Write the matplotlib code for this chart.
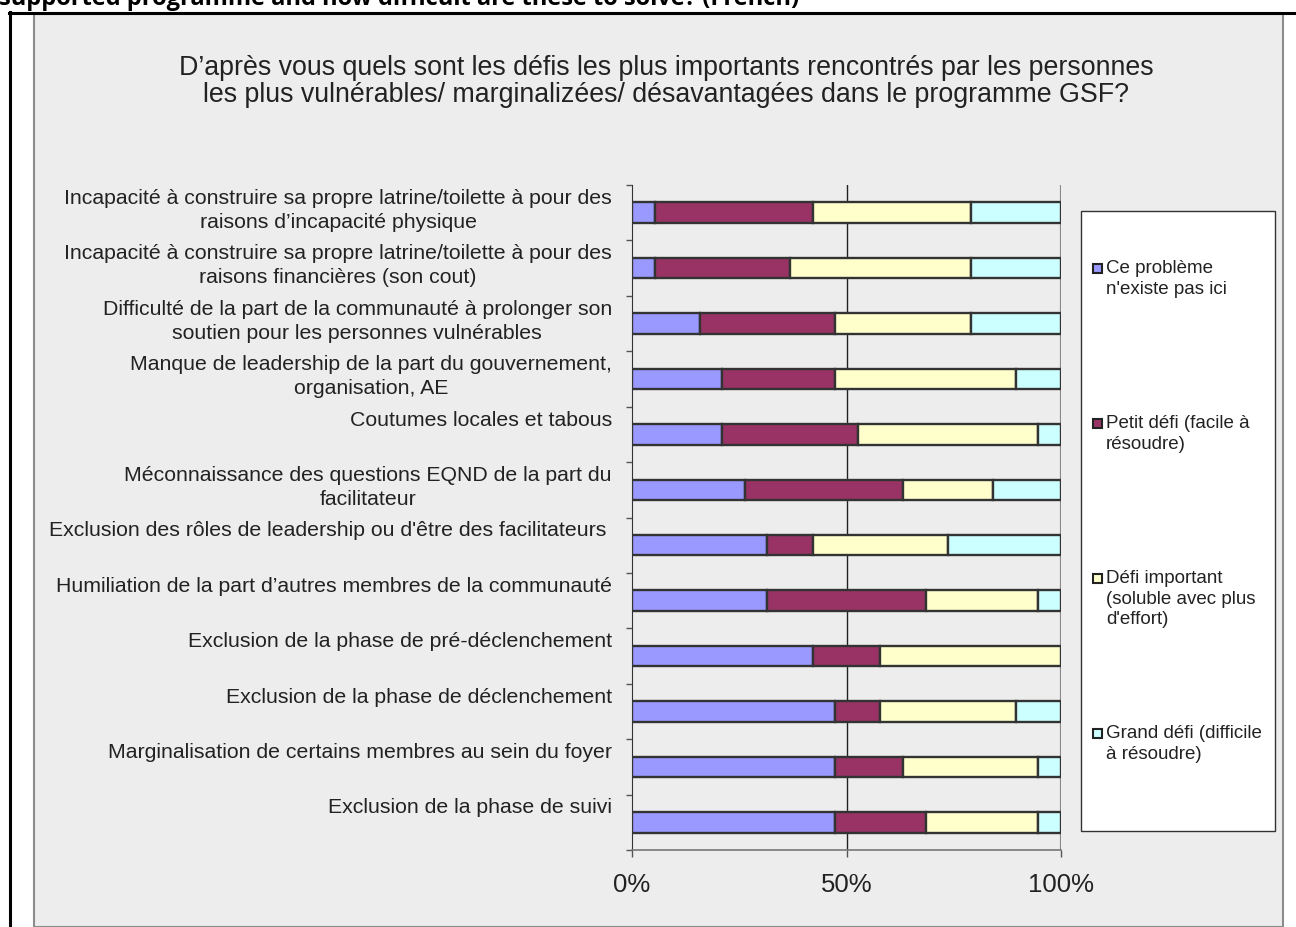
import matplotlib.pyplot as plt
from matplotlib.patches import Rectangle
from matplotlib.lines import Line2D
from matplotlib.transforms import blended_transform_factory

plt.rcParams['font.family'] = ['Liberation Sans', 'DejaVu Sans']

# ─────────── data (answers out of 19 respondents) ───────────
CATEGORIES = [
    "Incapacité à construire sa propre latrine/toilette à pour des\nraisons d’incapacité physique",
    "Incapacité à construire sa propre latrine/toilette à pour des\nraisons financières (son cout)",
    "Difficulté de la part de la communauté à prolonger son\nsoutien pour les personnes vulnérables",
    "Manque de leadership de la part du gouvernement,\norganisation, AE",
    "Coutumes locales et tabous",
    "Méconnaissance des questions EQND de la part du\nfacilitateur",
    "Exclusion des rôles de leadership ou d'être des facilitateurs ",
    "Humiliation de la part d’autres membres de la communauté",
    "Exclusion de la phase de pré-déclenchement",
    "Exclusion de la phase de déclenchement",
    "Marginalisation de certains membres au sein du foyer",
    "Exclusion de la phase de suivi",
]

no_problem  = [1, 1, 3, 4, 4, 5, 6, 6, 8, 9, 9, 9]
small       = [7, 6, 6, 5, 6, 7, 2, 7, 3, 2, 3, 4]
important   = [7, 8, 6, 8, 8, 4, 6, 5, 8, 6, 6, 5]
big         = [4, 4, 4, 2, 1, 3, 5, 1, 0, 2, 1, 1]

SERIES_LABELS = [
    "Ce problème\nn'existe pas ici",
    "Petit défi (facile à\nrésoudre)",
    "Défi important\n(soluble avec plus\nd'effort)",
    "Grand défi (difficile\nà résoudre)",
]
COLORS = ['#9999ff', '#993366', '#ffffcc', '#ccffff']

TITLE = ("D’après vous quels sont les défis les plus importants rencontrés par les personnes\n"
         "les plus vulnérables/ marginalizées/ désavantagées dans le programme GSF?")
HEADER = "supported programme and how difficult are these to solve? (French)"

X_TICKS = [0, 0.5, 1.0]
X_TICKLABELS = ['0%', '50%', '100%']

# ─────────── figure geometry (pixels) ───────────
W, H = 1296, 927
TXT = '#222222'


def fx(px):
    return px / W


def fy(py):
    return 1 - py / H


fig = plt.figure(figsize=(W / 100, H / 100), dpi=100)
fig.patch.set_facecolor('white')

# document frame and grey chart area
fig.add_artist(Rectangle((fx(34), 0), fx(1283) - fx(34), fy(14),
                         transform=fig.transFigure, facecolor='#ededed',
                         edgecolor='#8c8c8c', linewidth=1.5, zorder=0))
fig.add_artist(Line2D([fx(10), fx(10)], [0, fy(12)], transform=fig.transFigure,
                      color='black', linewidth=2.2))
fig.add_artist(Line2D([fx(9), 1], [fy(13), fy(13)], transform=fig.transFigure,
                      color='black', linewidth=2.2))
fig.text(fx(-1), fy(5), HEADER, fontsize=17, fontweight='bold',
         family=['Open Sans', 'DejaVu Sans'], ha='left', va='baseline', color='black')

fig.text(fx(666), fy(55), TITLE, ha='center', va='top', fontsize=19.3,
         linespacing=1.06, color=TXT)

# ─────────── stacked 100% bars ───────────
ax = fig.add_axes([fx(632), fy(850), fx(1061) - fx(632), (850 - 185) / H])
ax.set_facecolor('none')

n = len(CATEGORIES)
ypos = list(range(n))
series = [no_problem, small, important, big]
left = [0.0] * n
for vals, col in zip(series, COLORS):
    for i in range(n):
        total = no_problem[i] + small[i] + important[i] + big[i]
        frac = vals[i] / total
        if frac > 0:
            ax.barh(ypos[i], frac, left=left[i], height=0.37, color=col,
                    edgecolor='#333333', linewidth=1.7, zorder=3)
        left[i] += frac

ax.set_xlim(0, 1)
ax.set_ylim(n - 0.5, -0.5)

ax.axvline(0.5, color='#222222', linewidth=1.0, zorder=1)
ax.axvline(1.0, color='#8a8a8a', linewidth=1.6, zorder=1)

for s in ['top', 'right']:
    ax.spines[s].set_visible(False)
ax.spines['left'].set_color('#333333')
ax.spines['bottom'].set_color('#777777')
ax.spines['bottom'].set_linewidth(1.2)

ax.set_xticks(X_TICKS)
ax.set_xticklabels(X_TICKLABELS, fontsize=18.5, color=TXT)
ax.tick_params(axis='x', direction='out', length=5, width=1, color='#555555', pad=11.5)

ax.set_yticks([])
ax.set_yticks([i - 0.5 for i in range(n + 1)], minor=True)
ax.tick_params(axis='y', which='minor', direction='out', length=4.5, width=1,
               color='#555555')

trans = blended_transform_factory(ax.transAxes, ax.transData)
for i, lab in enumerate(CATEGORIES):
    ax.text(-20 / 429, i - 0.5 + 0.07, lab, transform=trans, ha='right', va='top',
            multialignment='center', fontsize=15.3, linespacing=1.32, color=TXT)

# ─────────── legend box ───────────
fig.add_artist(Rectangle((fx(1081), fy(831)), fx(1275) - fx(1081), (831 - 211) / H,
                         transform=fig.transFigure, facecolor='white',
                         edgecolor='#333333', linewidth=1.0, zorder=1))
entry_y = [268, 423, 578, 733]
for lab, col, yc in zip(SERIES_LABELS, COLORS, entry_y):
    fig.add_artist(Rectangle((fx(1093), fy(yc + 4.5)), fx(9), 9 / H,
                             transform=fig.transFigure, facecolor=col,
                             edgecolor='#222222', linewidth=1.5, zorder=2))
    fig.text(fx(1106), fy(yc - 8), lab, ha='left', va='top', fontsize=13.5,
             linespacing=1.27, color=TXT, zorder=3)

fig.savefig('out.png', dpi=100)
